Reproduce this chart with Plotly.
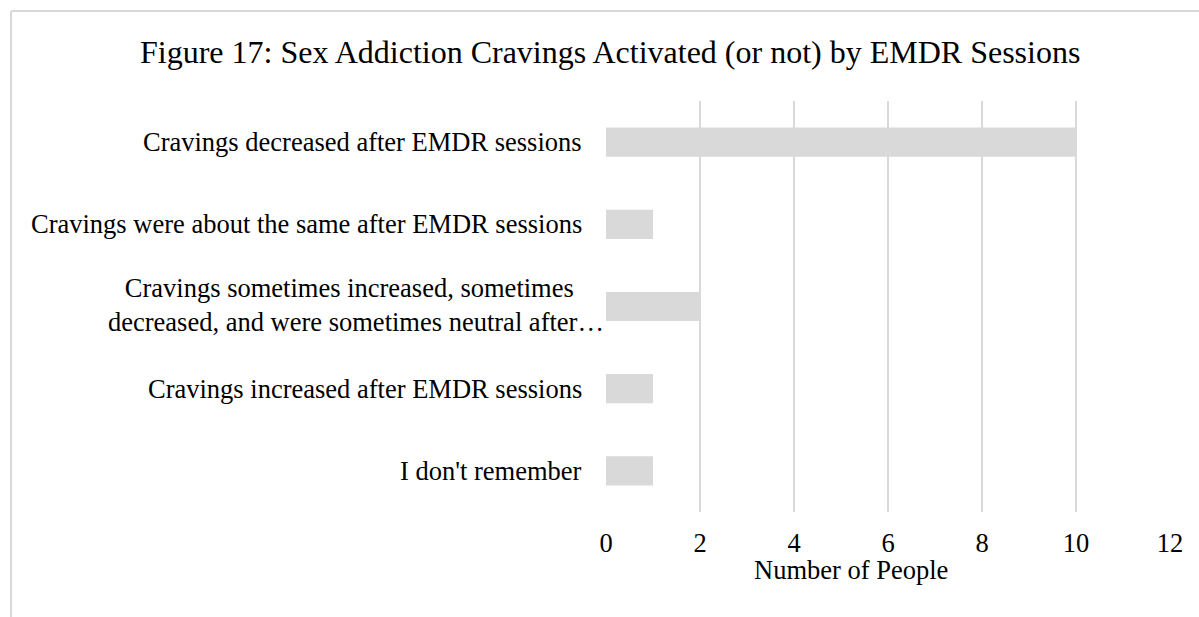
import plotly.graph_objects as go

# Survey responses (top to bottom as displayed)
categories = [
    "Cravings decreased after EMDR sessions",
    "Cravings were about the same after EMDR sessions",
    "Cravings sometimes increased, sometimes&nbsp;&nbsp;<br>decreased, and were sometimes neutral after…",
    "Cravings increased after EMDR sessions",
    "I don't remember",
]
counts = [10, 1, 2, 1, 1]
x_ticks = [0, 2, 4, 6, 8, 10, 12]

title_text = "Figure 17: Sex Addiction Cravings Activated (or not) by EMDR Sessions"
x_title = "Number of People"

W, H = 1199, 617
L, R, T, B = 606, 29, 101, 105
plot_w = W - L - R
plot_h = H - T - B

FONT = "Liberation Serif, Times New Roman, serif"
GRAY = "#d9d9d9"
LABEL_SIZE = 26.5
TITLE_SIZE = 32


def px_x(px):
    return (px - L) / plot_w


def px_y(py):
    return (H - B - py) / plot_h


fig = go.Figure(
    go.Bar(
        x=counts,
        y=categories,
        orientation="h",
        width=0.355,
        marker=dict(color=GRAY, line=dict(width=0)),
        hoverinfo="x+y",
    )
)

annotations = []
for cat in categories:
    multi = "<br>" in cat
    annotations.append(
        dict(
            x=px_x(606 if multi else 584),
            xref="paper",
            y=cat,
            yref="y",
            yshift=2 if multi else 0,
            text=cat,
            showarrow=False,
            xanchor="right",
            yanchor="middle",
            align="center" if multi else "right",
            font=dict(family=FONT, size=LABEL_SIZE, color="#000000"),
        )
    )

annotations.append(
    dict(
        x=px_x(610),
        xref="paper",
        y=px_y(52),
        yref="paper",
        text=title_text,
        showarrow=False,
        xanchor="center",
        yanchor="middle",
        font=dict(family=FONT, size=TITLE_SIZE, color="#000000"),
    )
)
annotations.append(
    dict(
        x=px_x(851),
        xref="paper",
        y=px_y(570),
        yref="paper",
        text=x_title,
        showarrow=False,
        xanchor="center",
        yanchor="middle",
        font=dict(family=FONT, size=LABEL_SIZE, color="#000000"),
    )
)

# Chart frame: only the top and left edges fall inside the page
shapes = [
    dict(type="line", xref="paper", yref="paper",
         x0=px_x(11), x1=px_x(W + 20), y0=px_y(11), y1=px_y(11),
         line=dict(color=GRAY, width=2)),
    dict(type="line", xref="paper", yref="paper",
         x0=px_x(11), x1=px_x(11), y0=px_y(11), y1=px_y(H + 20),
         line=dict(color=GRAY, width=2)),
]

fig.update_layout(
    width=W,
    height=H,
    margin=dict(l=L, r=R, t=T, b=B, pad=0),
    paper_bgcolor="white",
    plot_bgcolor="white",
    showlegend=False,
    annotations=annotations,
    shapes=shapes,
    font=dict(family=FONT, color="#000000"),
    bargap=0.645,
)

fig.update_xaxes(
    range=[0, 12],
    tickvals=x_ticks,
    ticktext=[str(v) for v in x_ticks],
    showgrid=True,
    gridcolor=GRAY,
    gridwidth=2,
    zeroline=False,
    showline=False,
    ticks="outside",
    ticklen=7,
    tickcolor="rgba(0,0,0,0)",
    tickfont=dict(family=FONT, size=LABEL_SIZE, color="#000000"),
    fixedrange=True,
)

fig.update_yaxes(
    categoryorder="array",
    categoryarray=categories[::-1],
    showticklabels=False,
    showgrid=False,
    zeroline=False,
    showline=False,
    fixedrange=True,
)

fig.write_html("out.html", config={"displayModeBar": False})
